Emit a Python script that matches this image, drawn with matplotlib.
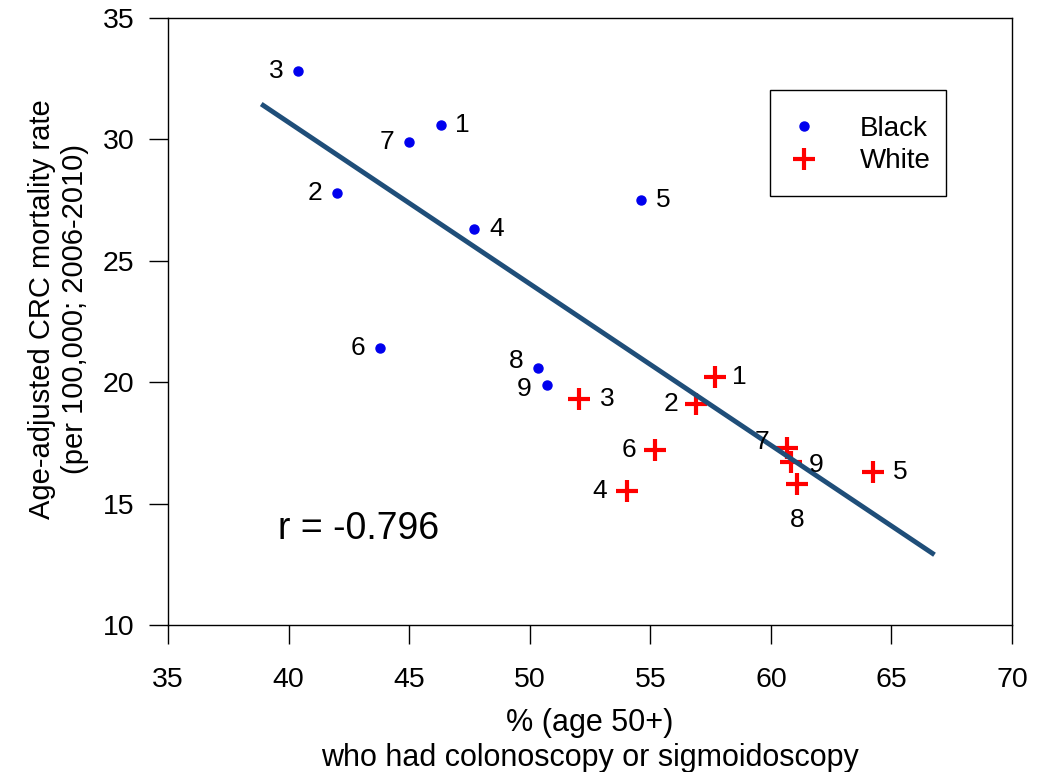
import numpy as np
import matplotlib.pyplot as plt
from matplotlib.patches import Rectangle

plt.rcParams['font.family'] = ['Liberation Sans', 'DejaVu Sans']

# --- Data ---
black_x = [46.3, 42.0, 40.4, 47.7, 54.6, 43.8, 45.0, 50.35, 50.7]
black_y = [30.6, 27.8, 32.8, 26.3, 27.5, 21.4, 29.9, 20.6, 19.9]
black_lab = ['1', '2', '3', '4', '5', '6', '7', '8', '9']

white_x = [57.7, 56.9, 52.05, 54.05, 64.25, 55.2, 60.65, 61.1, 60.85]
white_y = [20.2, 19.1, 19.3, 15.5, 16.3, 17.2, 17.3, 15.8, 16.7]
white_lab = ['1', '2', '3', '4', '5', '6', '7', '8', '9']

# regression line end points
fit_x = [38.95, 66.7]
fit_y = [31.4, 12.95]

r_text = 'r = -0.796'

# label placement for each point: offsets in points
black_off = [(16, 0), (-16, 0), (-16, 0), (16, 0), (16, 0), (-16, 0), (-16, 0), (-16, 5), (-16, -3)]
white_off = [(17, 0), (-18, 0), (20, 0), (-20, 0), (19, 0), (-19, 0), (-18, 4), (0, -26), (18, -2)]

fig = plt.figure(figsize=(10.54, 7.72), dpi=100)
ax = fig.add_axes([0.1594, 0.1904, 0.8008, 0.7863])

ax.plot(black_x, black_y, 'o', color='#0000EE', markersize=6.5, linestyle='none', label='Black')
ax.plot(white_x, white_y, '+', color='#FF0000', markersize=16, markeredgewidth=3,
        linestyle='none', label='White')
ax.plot(fit_x, fit_y, '-', color='#1F4E79', linewidth=3.5)

for x, y, t, (dx, dy) in zip(black_x, black_y, black_lab, black_off):
    ax.annotate(t, (x, y), xytext=(dx, dy), textcoords='offset points',
                ha='center', va='center', fontsize=19)
for x, y, t, (dx, dy) in zip(white_x, white_y, white_lab, white_off):
    ax.annotate(t, (x, y), xytext=(dx, dy), textcoords='offset points',
                ha='center', va='center', fontsize=19)

ax.text(39.55, 13.95, r_text, fontsize=27, ha='left', va='center')

ax.set_xlim(35, 70)
ax.set_ylim(10, 35)
ax.set_xticks(np.arange(35, 71, 5))
ax.set_yticks(np.arange(10, 36, 5))
ax.tick_params(direction='out', length=14, width=1, labelsize=20.5)
ax.tick_params(axis='x', pad=16)
ax.tick_params(axis='y', pad=10)
for s in ax.spines.values():
    s.set_linewidth(1)

ax.set_xlabel('% (age 50+)\nwho had colonoscopy or sigmoidoscopy', fontsize=22, labelpad=11)
ax.set_ylabel('Age-adjusted CRC mortality rate\n(per 100,000; 2006-2010)', fontsize=21)
ax.yaxis.set_label_coords(-0.094, 0.52)

# legend: box drawn separately so padding can differ per side
ax.add_patch(Rectangle((0.7133, 0.7068), 0.2085, 0.1746, transform=ax.transAxes,
                       fill=False, edgecolor='black', linewidth=1, zorder=5))
leg = ax.legend(loc='center', bbox_to_anchor=(0.8205, 0.7908), fontsize=20,
                frameon=False, borderpad=0, handlelength=1.0,
                handletextpad=1.5, labelspacing=0.25, borderaxespad=0)

fig.savefig('out.png', dpi=100)
